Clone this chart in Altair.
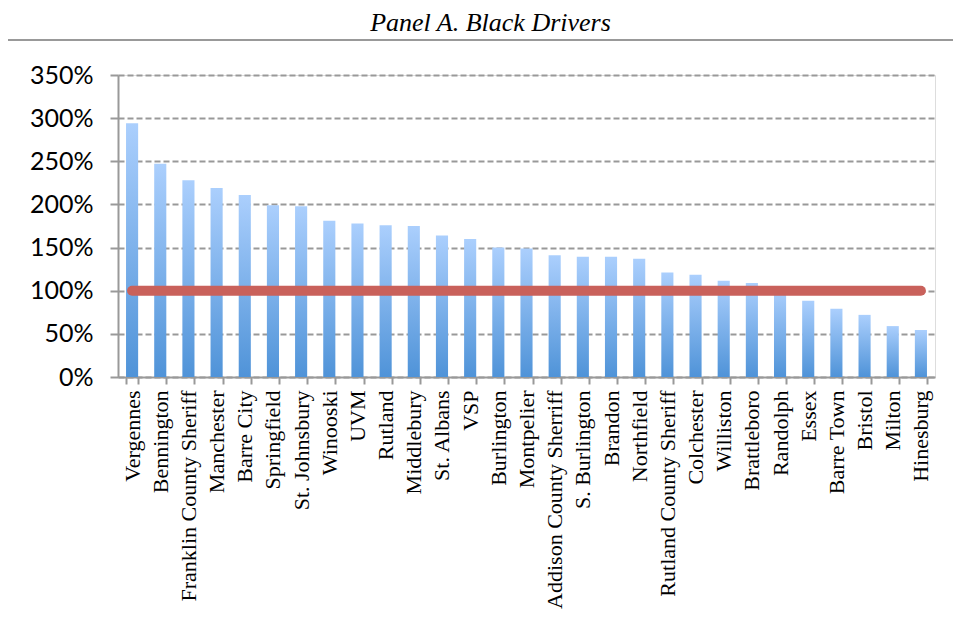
import altair as alt
import pandas as pd

agencies = [
    "Vergennes", "Bennington", "Franklin County Sheriff", "Manchester", "Barre City",
    "Springfield", "St. Johnsbury", "Winooski", "UVM", "Rutland", "Middlebury",
    "St. Albans", "VSP", "Burlington", "Montpelier", "Addison County Sherriff",
    "S. Burlington", "Brandon", "Northfield", "Rutland County Sheriff", "Colchester",
    "Williston", "Brattleboro", "Randolph", "Essex", "Barre Town", "Bristol",
    "Milton", "Hinesburg",
]
ratios = [
    2.94, 2.47, 2.28, 2.19, 2.11, 1.99, 1.98, 1.81, 1.78, 1.76, 1.75,
    1.64, 1.60, 1.50, 1.49, 1.41, 1.395, 1.395, 1.37, 1.21, 1.185,
    1.115, 1.09, 1.02, 0.885, 0.79, 0.72, 0.59, 0.545,
]
benchmark = [1.0] * len(agencies)
y_ticks = [0, 0.5, 1.0, 1.5, 2.0, 2.5, 3.0, 3.5]

df = pd.DataFrame({"agency": agencies, "ratio": ratios, "bench": benchmark})

x_enc = alt.X(
    "agency:N",
    sort=agencies,
    title=None,
    scale=alt.Scale(paddingInner=0.57, paddingOuter=0.285),
    axis=alt.Axis(
        labelAngle=-90,
        labelFont="Liberation Serif",
        labelFontSize=22,
        labelColor="#000000",
        labelPadding=6,
        labelLimit=400,
        tickSize=7,
        tickColor="#999999",
        tickWidth=2,
        tickBand="extent",
        domainColor="#999999",
        domainWidth=2,
        grid=False,
    ),
)

gradient = alt.Gradient(
    gradient="linear",
    stops=[
        alt.GradientStop(color="#abcffd", offset=0),
        alt.GradientStop(color="#4f93d8", offset=1),
    ],
    x1=0, x2=0, y1=0, y2=1,
)

bars = alt.Chart(df).mark_bar(color=gradient).encode(
    x=x_enc,
    y=alt.Y(
        "ratio:Q",
        title=None,
        scale=alt.Scale(domain=[0, 3.5], nice=False),
        axis=alt.Axis(
            values=y_ticks,
            format=".0%",
            labelFont="Lato",
            labelFontSize=25,
            labelColor="#000000",
            labelPadding=17,
            tickSize=8,
            tickColor="#999999",
            tickWidth=2,
            domainColor="#999999",
            domainWidth=2,
            grid=True,
            gridColor="#999999",
            gridWidth=2,
            gridDash=[6, 3],
        ),
    ),
)

line = alt.Chart(df).mark_line(
    color="#c9615b", strokeWidth=10, strokeCap="round"
).encode(
    x=alt.X("agency:N", sort=agencies),
    y=alt.Y("bench:Q"),
)

frame = alt.Chart(df).mark_rect(
    fill=None, stroke="#999999", strokeWidth=1.5
).encode(
    x=alt.value(-111), x2=alt.value(900),
    y=alt.value(-35), y2=alt.value(600),
)

chart = alt.layer(bars, line, frame).properties(
    width=817,
    height=302,
    autosize=alt.AutoSizeParams(type="none"),
    padding={"left": 110, "top": 67, "right": 18, "bottom": 241},
    title=alt.TitleParams(
        "Panel A. Black Drivers",
        font="Liberation Serif",
        fontSize=26,
        fontStyle="italic",
        fontWeight="normal",
        color="#000000",
        anchor="middle",
        dx=-36,
        offset=3,
    ),
).configure_view(stroke=None).configure(background="#ffffff")

chart.save("out.html", embed_options={"renderer": "svg", "actions": False})
